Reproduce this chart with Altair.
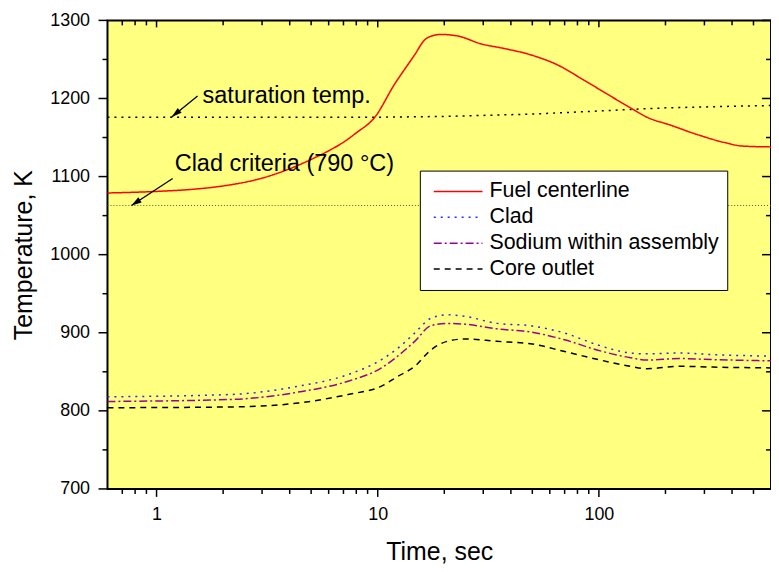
import altair as alt
import pandas as pd

FONT = "Liberation Sans"

# ---------------- data ----------------
series_names = ["Fuel centerline", "Clad", "Sodium within assembly", "Core outlet"]
series_colors = ["#FF0000", "#2626FF", "#990099", "#000000"]
series_dash = [[1, 0], [2, 5], [8, 3, 2, 3], [6, 5]]

fuel_t = [0.6, 1.0, 1.5, 2.0, 3.0, 4.0, 5.0, 6.0, 7.0, 8.0, 9.7, 11.9, 14.7, 16.3, 17.5,
          19.3, 23, 29.3, 37.3, 49, 65, 85, 113, 139, 165, 210, 277, 365, 449, 600]
fuel_T = [1079, 1081, 1084, 1088, 1098, 1110, 1122, 1133, 1144, 1156, 1176, 1218, 1256, 1275,
          1280, 1282, 1280, 1270, 1264, 1256, 1243, 1224, 1203, 1188, 1176, 1166, 1154, 1144,
          1139, 1138]

low_t = [0.6, 2.19, 4.37, 7.35, 10.4, 12.3, 14.7, 17.4, 20.6, 24.8, 34.6, 49, 70, 98,
         139, 165, 232, 328, 600]
clad_T = [818, 821, 831.6, 846.5, 865.6, 880, 899.6, 918.7, 923, 921, 912, 909, 899.6,
          884.7, 874, 873, 874, 872, 870]
sodium_T = [812, 814.6, 824, 838, 855, 870, 889, 909, 912, 911, 905, 901, 891, 878,
            868, 865, 867, 865.6, 864]
outlet_T = [804, 805, 810, 821, 831.6, 844, 857, 878, 889, 892, 889, 886, 876, 866,
            857, 854, 857, 856, 855]

sat_t = [0.6, 10, 20, 50, 100, 140, 200, 400, 600]
sat_T = [1176, 1176, 1177, 1180, 1184, 1186, 1188, 1190, 1191]

clad_criteria_T = [1063]

ann_text = ["saturation temp.", "Clad criteria (790 °C)"]
ann_t = [1.615, 1.208]
ann_T = [1194.6, 1107.6]

arrow_id = [0, 0, 1, 1]
arrow_t = [1.533, 1.171, 1.183, 0.77]
arrow_T = [1203.2, 1176.4, 1097.5, 1063]
head_t = [1.171, 0.77]
head_T = [1176.4, 1063]
head_angle = [231, 237]

x_major = [1, 10, 100]
x_minor = [0.7, 0.8, 0.9, 2, 3, 4, 5, 6, 7, 8, 9, 20, 30, 40, 50, 60, 70, 80, 90,
           200, 300, 400, 500]
y_major = [700, 800, 900, 1000, 1100, 1200, 1300]
y_minor = [750, 850, 950, 1050, 1150, 1250]

# ---------------- tables ----------------
rows = []
for t, v in zip(fuel_t, fuel_T):
    rows.append({"series": series_names[0], "t": t, "T": v})
for name, vals in zip(series_names[1:], [clad_T, sodium_T, outlet_T]):
    for t, v in zip(low_t, vals):
        rows.append({"series": name, "t": t, "T": v})
df = pd.DataFrame(rows)
df_sat = pd.DataFrame({"t": sat_t, "T": sat_T})
df_crit = pd.DataFrame({"T": clad_criteria_T})
df_ann = pd.DataFrame({"t": ann_t, "T": ann_T, "label": ann_text})
df_arrow = pd.DataFrame({"id": arrow_id, "t": arrow_t, "T": arrow_T})
df_head = pd.DataFrame({"t": head_t, "T": head_T, "ang": head_angle})

W, H = 667, 471
xscale = alt.Scale(type="log", domain=[0.6, 600], nice=False)
yscale = alt.Scale(domain=[700, 1300], nice=False, zero=False)

# one identical axis definition used by every layer, so the layers merge cleanly
XAXIS = alt.Axis(orient="bottom", values=x_major, format="d", ticks=False, tickSize=0,
                 domain=False, grid=False, labelFontSize=18, labelPadding=17, labelFont=FONT,
                 labelColor="black", title="Time, sec", titleFont=FONT, titleColor="black",
                 titleFontSize=25, titleFontWeight="normal", titlePadding=16)
YAXIS = alt.Axis(orient="left", values=y_major, format="d", ticks=False, tickSize=0,
                 domain=False, grid=False, labelFontSize=18, labelPadding=18, labelFont=FONT,
                 labelColor="black", title="Temperature, K", titleFont=FONT,
                 titleColor="black", titleFontSize=25, titleFontWeight="normal",
                 titlePadding=13)


def X(field):
    return alt.X(field, scale=xscale, axis=XAXIS)


def Y(field):
    return alt.Y(field, scale=yscale, axis=YAXIS)


# ---------------- layers ----------------
sat_line = alt.Chart(df_sat).mark_line(color="black", strokeDash=[2, 5], strokeWidth=1.5).encode(
    x=X("t:Q"), y=Y("T:Q"))

crit_line = alt.Chart(df_crit).mark_rule(color="#555533", strokeDash=[1, 2], strokeWidth=1).encode(
    y=Y("T:Q"))

legend_kw = dict(title=None, orient="none", legendX=314, legendY=151,
                 fillColor="white", strokeColor="black", padding=8,
                 symbolType="stroke", symbolSize=2401, symbolStrokeWidth=1.5,
                 labelFontSize=21.5, labelFont=FONT, labelColor="black",
                 labelOffset=6, symbolOffset=5, clipHeight=26, rowPadding=0, labelLimit=400)

lines = alt.Chart(df).mark_line(strokeWidth=1.5, interpolate="monotone").encode(
    x=X("t:Q"),
    y=Y("T:Q"),
    color=alt.Color("series:N", scale=alt.Scale(domain=series_names, range=series_colors),
                    legend=alt.Legend(**legend_kw)),
    strokeDash=alt.StrokeDash("series:N", scale=alt.Scale(domain=series_names, range=series_dash),
                              legend=alt.Legend(**legend_kw)),
    detail="series:N",
)

ann = alt.Chart(df_ann).mark_text(align="left", baseline="alphabetic", fontSize=23.6, font=FONT,
                                  color="black").encode(
    x=X("t:Q"), y=Y("T:Q"), text="label:N")

arrows = alt.Chart(df_arrow).mark_line(color="black", strokeWidth=1.3).encode(
    x=X("t:Q"), y=Y("T:Q"), detail="id:N")

heads = alt.Chart(df_head).mark_point(shape="M0,0L-0.3,1L0.3,1Z", filled=True, size=420,
                                      color="black", opacity=1, strokeWidth=0).encode(
    x=X("t:Q"), y=Y("T:Q"), angle=alt.Angle("ang:Q", scale=None))


# tick marks at the scale positions of the tick values (outer: bottom/left, inner: top/right)
def x_ticks(vals, y0, y1):
    return alt.Chart(pd.DataFrame({"v": vals})).mark_rule(color="black", strokeWidth=1.5).encode(
        x=X("v:Q"), y=alt.value(y0), y2=alt.value(y1))


def y_ticks(vals, x0, x1):
    return alt.Chart(pd.DataFrame({"v": vals})).mark_rule(color="black", strokeWidth=1.5).encode(
        y=Y("v:Q"), x=alt.value(x0), x2=alt.value(x1))


ticks = [
    x_ticks(x_major, H, H + 8), x_ticks(x_minor, H, H + 5),
    x_ticks(x_major, 0, 7), x_ticks(x_minor, 0, 5),
    y_ticks(y_major, -9, 0), y_ticks(y_minor, -5, 0),
    y_ticks(y_major, W - 9, W), y_ticks(y_minor, W - 5, W),
]

chart = alt.layer(
    sat_line, crit_line, lines, ann, arrows, heads, *ticks
).properties(
    width=W, height=H,
    autosize=alt.AutoSizeParams(type="none"),
    padding={"left": 100, "top": 11, "right": 0, "bottom": 74},
    background="white",
).configure(
    font=FONT,
).configure_view(
    fill="#FFFF80", stroke="black", strokeWidth=2,
)

chart.save("out.html", embed_options={"renderer": "svg", "actions": False})
